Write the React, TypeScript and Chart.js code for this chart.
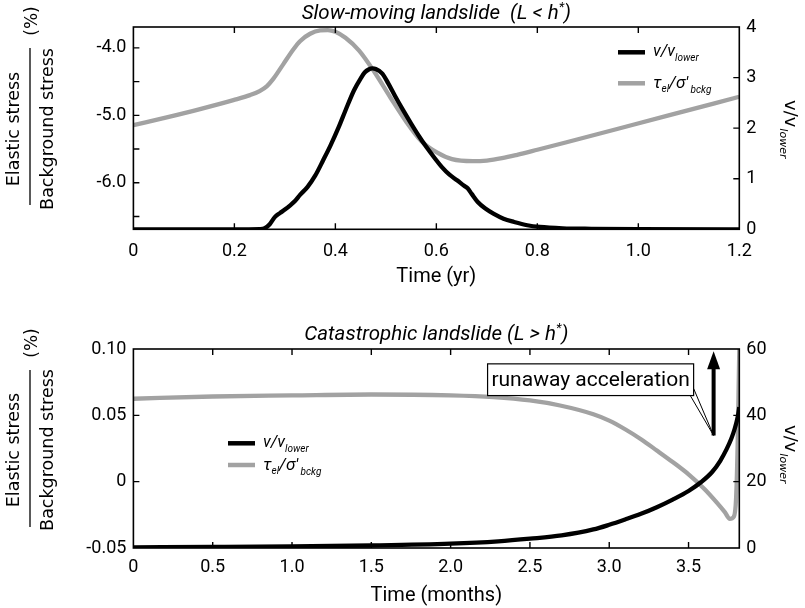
import React, { useEffect, useRef } from 'react';
import { Chart, registerables } from 'chart.js';

Chart.register(...registerables);

// ---------------- Top panel: slow-moving landslide ----------------
const slowVelTime = [0, 0.1, 0.2, 0.25, 0.26, 0.27, 0.28, 0.29, 0.3, 0.31, 0.32, 0.33, 0.345, 0.36, 0.376, 0.39, 0.407, 0.42, 0.437, 0.45, 0.458, 0.466, 0.473, 0.48, 0.493, 0.505, 0.519, 0.535, 0.55, 0.565, 0.58, 0.595, 0.611, 0.626, 0.641, 0.655, 0.662, 0.67, 0.682, 0.697, 0.713, 0.733, 0.754, 0.78, 0.805, 0.85, 0.907, 1.0, 1.2];
const slowVel = [0, 0, 0, 0.005, 0.02, 0.1, 0.24, 0.32, 0.39, 0.47, 0.56, 0.68, 0.84, 1.06, 1.37, 1.65, 2.03, 2.35, 2.75, 2.98, 3.1, 3.16, 3.18, 3.17, 3.08, 2.88, 2.62, 2.34, 2.09, 1.85, 1.63, 1.43, 1.23, 1.08, 0.97, 0.86, 0.81, 0.7, 0.54, 0.41, 0.31, 0.21, 0.145, 0.08, 0.046, 0.02, 0.01, 0.003, 0];
const slowStressTime = [0, 0.066, 0.132, 0.198, 0.231, 0.25, 0.264, 0.277, 0.297, 0.317, 0.33, 0.35, 0.37, 0.385, 0.4, 0.42, 0.447, 0.478, 0.509, 0.539, 0.57, 0.601, 0.631, 0.672, 0.7, 0.73, 0.76, 0.8, 0.856, 0.958, 1.06, 1.2];
const slowStress = [-5.145, -5.03, -4.907, -4.774, -4.7, -4.64, -4.57, -4.46, -4.24, -4.02, -3.9, -3.79, -3.74, -3.735, -3.76, -3.85, -4.04, -4.365, -4.735, -5.08, -5.38, -5.55, -5.65, -5.68, -5.67, -5.635, -5.585, -5.51, -5.403, -5.202, -5.001, -4.725];

const slowXTicks = [0, 0.2, 0.4, 0.6, 0.8, 1.0, 1.2];
const slowXLabels = ['0', '0.2', '0.4', '0.6', '0.8', '1.0', '1.2'];
const slowYTicks = [-6.5, -6.0, -5.5, -5.0, -4.5, -4.0];
const slowYLabels = ['', '-6.0', '', '-5.0', '', '-4.0'];
const slowY1Ticks = [0, 1, 2, 3, 4];
const slowY1Labels = ['0', '1', '2', '3', '4'];

// ---------------- Bottom panel: catastrophic landslide ----------------
const catVelTime = [0, 0.5, 1.0, 1.5, 2.0, 2.3, 2.5, 2.7, 2.9, 3.0, 3.1, 3.2, 3.3, 3.4, 3.5, 3.58, 3.65, 3.7, 3.74, 3.77, 3.79, 3.81, 3.82];
const catVel = [0.2, 0.3, 0.45, 0.75, 1.3, 2.0, 2.8, 3.8, 5.6, 7.0, 8.6, 10.3, 12.3, 14.6, 17.2, 19.9, 23.0, 26.3, 29.8, 33.0, 35.8, 39.5, 42.5];
const catStressTime = [0, 0.5, 1.0, 1.5, 2.0, 2.27, 2.5, 2.69, 2.9, 3.0, 3.1, 3.2, 3.3, 3.4, 3.5, 3.6, 3.68, 3.73, 3.76, 3.785, 3.8, 3.81, 3.815, 3.82];
const catStress = [0.0625, 0.0642, 0.065, 0.0657, 0.065, 0.0637, 0.0612, 0.0574, 0.0508, 0.046, 0.0395, 0.032, 0.0235, 0.0148, 0.0055, -0.0055, -0.016, -0.0232, -0.028, -0.0265, -0.012, 0.03, 0.065, 0.1];

const catXTicks = [0, 0.5, 1.0, 1.5, 2.0, 2.5, 3.0, 3.5];
const catXLabels = ['0', '0.5', '1.0', '1.5', '2.0', '2.5', '3.0', '3.5'];
const catYTicks = [-0.05, 0, 0.05, 0.1];
const catYLabels = ['-0.05', '0', '0.05', '0.10'];
const catY1Ticks = [0, 20, 40, 60];
const catY1Labels = ['0', '20', '40', '60'];

// annotation (data units of bottom panel)
const runawayText = 'runaway acceleration';
const runawayBoxX = [2.233, 3.532];
const runawayBoxY = [0.0649, 0.0888];
const arrowX = 3.658;
const arrowY = [0.0348, 0.0983];
const calloutFrom = [[3.511, 0.0649], [3.532, 0.0702]];

const W = 805;
const PLOT_LEFT = 133.4;
const PLOT_RIGHT = 739.3;
const GRAY = '#a2a2a2';
const TICK_FONT = 'Roboto';
const SANS = '"DejaVu Sans"';

type Part = { t: string; f: string; dy?: number };

function drawRich(ctx: CanvasRenderingContext2D, parts: Part[], x: number, y: number, center: boolean) {
  let w = 0;
  for (const p of parts) { ctx.font = p.f; w += ctx.measureText(p.t).width; }
  let cx = center ? x - w / 2 : x;
  ctx.textAlign = 'left';
  ctx.textBaseline = 'alphabetic';
  for (const p of parts) {
    ctx.font = p.f;
    ctx.fillText(p.t, cx, y + (p.dy || 0));
    cx += ctx.measureText(p.t).width;
  }
}

const velLegend: Part[] = [
  { t: 'v/v', f: `italic 16.5px ${TICK_FONT}` },
  { t: 'lower', f: `italic 10px ${TICK_FONT}`, dy: 4.5 },
];
const strLegend: Part[] = [
  { t: 'τ', f: `italic 17px ${TICK_FONT}` },
  { t: 'el', f: `italic 10px ${TICK_FONT}`, dy: 4.5 },
  { t: '/σ′', f: `italic 17px ${TICK_FONT}` },
  { t: ' bckg', f: `italic 10px ${TICK_FONT}`, dy: 5 },
];

interface Panel {
  height: number; plotTop: number; plotBottom: number; xPad: number;
  xMax: number; yMin: number; yMax: number; y1Max: number;
  xTicks: number[]; xLabels: string[]; yTicks: number[]; yLabels: string[]; y1Ticks: number[]; y1Labels: string[];
  velX: number[]; velY: number[]; strX: number[]; strY: number[];
  title: Part[]; titleY: number; xTitle: string; xTitleY: number;
  legendX: number; legendY1: number; legendY2: number;
  leftCy: number; leftLineCy: number; pctY: number; rightStartY: number;
  annotate: boolean;
}

const titleFont = `italic 20.5px ${TICK_FONT}`;
const supFont = `italic 13px ${TICK_FONT}`;

const topPanel: Panel = {
  height: 290, plotTop: 27, plotBottom: 229.3, xPad: 11,
  xMax: 1.2, yMin: -6.69, yMax: -3.69, y1Max: 4,
  xTicks: slowXTicks, xLabels: slowXLabels, yTicks: slowYTicks, yLabels: slowYLabels, y1Ticks: slowY1Ticks, y1Labels: slowY1Labels,
  velX: slowVelTime, velY: slowVel, strX: slowStressTime, strY: slowStress,
  title: [
    { t: 'Slow-moving landslide  (L < h', f: titleFont },
    { t: '*', f: supFont, dy: -8 },
    { t: ')', f: titleFont },
  ],
  titleY: 19, xTitle: 'Time (yr)', xTitleY: 282,
  legendX: 618, legendY1: 52.3, legendY2: 83.3,
  leftCy: 129, leftLineCy: 126.5, pctY: 21, rightStartY: 100,
  annotate: false,
};

const botPanel: Panel = {
  height: 318, plotTop: 59, plotBottom: 258, xPad: 9,
  xMax: 3.82, yMin: -0.05, yMax: 0.1, y1Max: 60,
  xTicks: catXTicks, xLabels: catXLabels, yTicks: catYTicks, yLabels: catYLabels, y1Ticks: catY1Ticks, y1Labels: catY1Labels,
  velX: catVelTime, velY: catVel, strX: catStressTime, strY: catStress,
  title: [
    { t: 'Catastrophic landslide (L > h', f: titleFont },
    { t: '*', f: supFont, dy: -8 },
    { t: ')', f: titleFont },
  ],
  titleY: 50, xTitle: 'Time (months)', xTitleY: 311,
  legendX: 228, legendY1: 153.3, legendY2: 175,
  leftCy: 160, leftLineCy: 158.5, pctY: 53, rightStartY: 135,
  annotate: true,
};

function makeChart(canvas: HTMLCanvasElement, p: Panel) {
  const frame = {
    id: 'frame',
    afterDraw(chart: any) {
      const ctx: CanvasRenderingContext2D = chart.ctx;
      const { left, right, top, bottom } = chart.chartArea;
      const xs = chart.scales.x, ys = chart.scales.y, y1 = chart.scales.y1;
      ctx.save();
      ctx.strokeStyle = '#000';
      ctx.fillStyle = '#000';
      ctx.lineWidth = 1.6;
      ctx.strokeRect(left, top, right - left, bottom - top);
      // inward tick marks
      const T = 6;
      ctx.lineWidth = 1.4;
      ctx.beginPath();
      for (const v of p.xTicks) {
        const px = xs.getPixelForValue(v);
        if (px <= left + 1 || px >= right - 1) continue;
        ctx.moveTo(px, bottom); ctx.lineTo(px, bottom - T);
        ctx.moveTo(px, top); ctx.lineTo(px, top + T);
      }
      for (const v of p.yTicks) {
        const py = ys.getPixelForValue(v);
        if (py <= top + 1 || py >= bottom - 1) continue;
        ctx.moveTo(left, py); ctx.lineTo(left + T, py);
      }
      for (const v of p.y1Ticks) {
        const py = y1.getPixelForValue(v);
        if (py <= top + 1 || py >= bottom - 1) continue;
        ctx.moveTo(right, py); ctx.lineTo(right - T, py);
      }
      ctx.stroke();

      // title
      drawRich(ctx, p.title, (left + right) / 2, p.titleY, true);
      // x title
      ctx.font = `20px ${TICK_FONT}`;
      ctx.textAlign = 'center';
      ctx.fillText(p.xTitle, (left + right) / 2, p.xTitleY);

      // legend
      ctx.lineWidth = 4.5;
      ctx.strokeStyle = '#000';
      ctx.beginPath(); ctx.moveTo(p.legendX, p.legendY1); ctx.lineTo(p.legendX + 27, p.legendY1); ctx.stroke();
      ctx.strokeStyle = GRAY;
      ctx.beginPath(); ctx.moveTo(p.legendX, p.legendY2); ctx.lineTo(p.legendX + 27, p.legendY2); ctx.stroke();
      drawRich(ctx, velLegend, p.legendX + 35, p.legendY1 + 4, false);
      drawRich(ctx, strLegend, p.legendX + 35, p.legendY2 + 4.5, false);

      // left axis title (fraction)
      ctx.fillStyle = '#000';
      ctx.strokeStyle = '#000';
      const rot = (x: number, y: number, text: string, font: string) => {
        ctx.save(); ctx.translate(x, y); ctx.rotate(-Math.PI / 2);
        ctx.font = font; ctx.textAlign = 'center'; ctx.textBaseline = 'alphabetic';
        ctx.fillText(text, 0, 0); ctx.restore();
      };
      rot(18.5, p.leftCy, 'Elastic stress', `17.5px ${SANS}`);
      rot(53, p.leftCy, 'Background stress', `17.5px ${SANS}`);
      rot(37, p.pctY, '(%)', `17px ${SANS}`);
      ctx.lineWidth = 1.3;
      ctx.beginPath(); ctx.moveTo(30, p.leftLineCy - 78.5); ctx.lineTo(30, p.leftLineCy + 78.5); ctx.stroke();

      // right axis title
      ctx.save();
      ctx.translate(785, p.rightStartY);
      ctx.rotate(Math.PI / 2);
      ctx.textAlign = 'left'; ctx.textBaseline = 'alphabetic';
      ctx.font = `18px ${SANS}`;
      ctx.fillText('v/v', 0, 0);
      const wv = ctx.measureText('v/v').width;
      ctx.font = `italic 11px ${SANS}`;
      ctx.fillText('lower', wv + 1, 5.5);
      ctx.restore();

      if (p.annotate) {
        const bx0 = xs.getPixelForValue(runawayBoxX[0]);
        const bx1 = xs.getPixelForValue(runawayBoxX[1]);
        const by0 = ys.getPixelForValue(runawayBoxY[1]);
        const by1 = ys.getPixelForValue(runawayBoxY[0]);
        const ax = xs.getPixelForValue(arrowX);
        const aTail = ys.getPixelForValue(arrowY[0]);
        const aTip = ys.getPixelForValue(arrowY[1]);
        // callout wedge
        ctx.lineWidth = 1;
        ctx.strokeStyle = '#000';
        ctx.beginPath();
        for (const [cx, cy] of calloutFrom) {
          ctx.moveTo(xs.getPixelForValue(cx), ys.getPixelForValue(cy));
          ctx.lineTo(ax, aTail);
        }
        ctx.stroke();
        // box
        ctx.fillStyle = '#fff';
        ctx.fillRect(bx0, by0, bx1 - bx0, by1 - by0);
        ctx.lineWidth = 1.2;
        ctx.strokeRect(bx0, by0, bx1 - bx0, by1 - by0);
        ctx.fillStyle = '#000';
        ctx.font = `21px ${TICK_FONT}`;
        ctx.textAlign = 'center';
        ctx.textBaseline = 'middle';
        ctx.fillText(runawayText, (bx0 + bx1) / 2, (by0 + by1) / 2 + 1);
        // arrow
        const HL = 18, HW = 6.5;
        ctx.lineWidth = 4;
        ctx.beginPath(); ctx.moveTo(ax, aTail); ctx.lineTo(ax, aTip + HL - 1); ctx.stroke();
        ctx.beginPath();
        ctx.moveTo(ax, aTip); ctx.lineTo(ax - HW, aTip + HL); ctx.lineTo(ax + HW, aTip + HL); ctx.closePath();
        ctx.fill();
      }
      ctx.restore();
    },
  };

  const tickFont = { family: TICK_FONT, size: 18 };
  return new Chart(canvas, {
    type: 'line',
    data: {
      datasets: [
        {
          label: 'v/v_lower',
          data: p.velX.map((x, i) => ({ x, y: p.velY[i] })),
          yAxisID: 'y1',
          borderColor: '#000',
          borderWidth: 4.3,
          pointRadius: 0,
          cubicInterpolationMode: 'monotone',
          fill: false,
        },
        {
          label: 'tau_el/sigma_bckg',
          data: p.strX.map((x, i) => ({ x, y: p.strY[i] })),
          yAxisID: 'y',
          borderColor: GRAY,
          borderWidth: 4.3,
          pointRadius: 0,
          cubicInterpolationMode: 'monotone',
          fill: false,
        },
      ],
    },
    options: {
      responsive: false,
      animation: false,
      events: [],
      layout: { padding: { top: p.plotTop, left: 0, right: 0, bottom: 0 } },
      plugins: { legend: { display: false }, tooltip: { enabled: false }, title: { display: false } },
      scales: {
        x: {
          type: 'linear', position: 'bottom', min: 0, max: p.xMax,
          grid: { display: false, drawTicks: false }, border: { display: false },
          afterBuildTicks: (s: any) => { s.ticks = p.xTicks.map((v) => ({ value: v })); },
          afterFit: (s: any) => { s.height = p.height - p.plotBottom; },
          ticks: {
            autoSkip: false, maxRotation: 0, minRotation: 0, padding: p.xPad, color: '#000', font: tickFont,
            callback: (_v: any, i: number) => p.xLabels[i],
          },
        },
        y: {
          type: 'linear', position: 'left', min: p.yMin, max: p.yMax,
          grid: { display: false, drawTicks: false }, border: { display: false },
          afterBuildTicks: (s: any) => { s.ticks = p.yTicks.map((v) => ({ value: v })); },
          afterFit: (s: any) => { s.width = PLOT_LEFT; },
          ticks: {
            autoSkip: false, padding: 7, color: '#000', font: tickFont,
            callback: (_v: any, i: number) => p.yLabels[i],
          },
        },
        y1: {
          type: 'linear', position: 'right', min: 0, max: p.y1Max,
          grid: { display: false, drawTicks: false }, border: { display: false },
          afterBuildTicks: (s: any) => { s.ticks = p.y1Ticks.map((v) => ({ value: v })); },
          afterFit: (s: any) => { s.width = W - PLOT_RIGHT; },
          ticks: {
            autoSkip: false, padding: 7, color: '#000', font: tickFont,
            callback: (_v: any, i: number) => p.y1Labels[i],
          },
        },
      },
    } as any,
    plugins: [frame],
  });
}

export default function App() {
  const topRef = useRef<HTMLCanvasElement>(null);
  const botRef = useRef<HTMLCanvasElement>(null);
  useEffect(() => {
    const c1 = makeChart(topRef.current!, topPanel);
    const c2 = makeChart(botRef.current!, botPanel);
    return () => { c1.destroy(); c2.destroy(); };
  }, []);
  return (
    <div style={{ position: 'absolute', left: 0, top: 0, width: W, height: 608, background: '#fff' }}>
      <canvas ref={topRef} width={W} height={290} style={{ position: 'absolute', left: 0, top: 0 }} />
      <canvas ref={botRef} width={W} height={318} style={{ position: 'absolute', left: 0, top: 290 }} />
    </div>
  );
}
